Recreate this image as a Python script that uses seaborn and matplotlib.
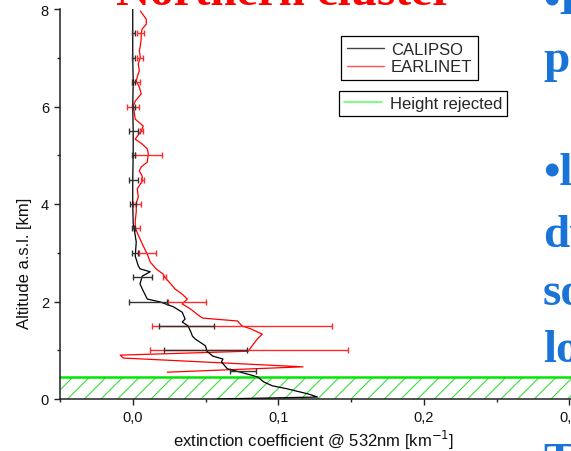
import matplotlib
matplotlib.use("Agg")
import matplotlib.pyplot as plt
import seaborn as sns
from matplotlib.lines import Line2D
from matplotlib.ticker import MultipleLocator, FixedLocator, FixedFormatter

# ---------------- data ----------------
calipso_alt = [8.0, 7.5, 7.0, 6.5, 6.0, 5.5, 5.0, 4.5, 4.0, 3.6, 3.49, 3.22, 2.93,
               2.73, 2.67, 2.61, 2.52, 2.36, 2.26, 2.05, 1.99, 1.89, 1.78, 1.64,
               1.58, 1.50, 1.37, 1.29, 1.23, 1.09, 0.98, 0.88, 0.82, 0.76, 0.62,
               0.55, 0.51, 0.45, 0.35, 0.27, 0.21, 0.10, 0.04, 0.0]
calipso_ext = [0.0, 0.0, 0.0, 0.0003, 0.0, 0.0003, 0.0003, 0.0, 0.0, 0.0003, 0.001,
               0.0024, 0.0017, 0.0038, 0.005, 0.012, 0.0065, 0.005, 0.0065, 0.010,
               0.019, 0.028, 0.034, 0.036, 0.034, 0.038, 0.040, 0.041, 0.043, 0.050,
               0.051, 0.055, 0.062, 0.061, 0.065, 0.074, 0.079, 0.086, 0.090, 0.096,
               0.106, 0.121, 0.127, 0.058]

earlinet_alt = [7.96, 7.79, 7.69, 7.59, 7.51, 7.38, 7.24, 7.14, 7.02, 6.87, 6.73,
                6.61, 6.52, 6.40, 6.26, 6.11, 6.01, 5.89, 5.74, 5.60, 5.50, 5.33,
                5.23, 5.13, 5.03, 4.86, 4.76, 4.68, 4.57, 4.47, 4.31, 4.14, 4.02,
                3.84, 3.65, 3.51, 3.36, 3.14, 2.97, 2.81, 2.67, 2.56, 2.50, 2.40,
                2.26, 2.15, 2.05, 1.95, 1.85, 1.70, 1.66, 1.60, 1.50, 1.44, 1.33,
                1.23, 1.09, 0.98, 0.90, 0.84, 0.66, 0.55]
earlinet_ext = [0.0052, 0.0093, 0.0093, 0.0065, 0.0058, 0.0058, 0.0052, 0.0045,
                0.0052, 0.0038, 0.0045, 0.0031, 0.0024, 0.0045, 0.0058, 0.0017,
                0.0003, 0.0010, 0.0017, 0.0072, 0.0058, 0.0017, 0.0065, 0.0100,
                0.0107, 0.0100, 0.0058, 0.0045, 0.0065, 0.0065, 0.0031, 0.0038,
                0.0024, 0.0024, 0.0017, 0.0017, 0.0038, 0.0072, 0.0100, 0.0120,
                0.0160, 0.0210, 0.0220, 0.0250, 0.0290, 0.0340, 0.0375, 0.0340,
                0.0395, 0.0460, 0.0480, 0.0720, 0.0750, 0.0810, 0.0890, 0.0856,
                0.0820, 0.0794, -0.0086, -0.0065, 0.1170, 0.0237]

calipso_err_alt = [7.5, 7.0, 6.5, 6.0, 5.5, 5.0, 4.5, 4.0, 3.5, 3.0, 2.5, 2.0, 1.5, 1.0, 0.57]
calipso_err_ctr = [0.0003, 0.0003, 0.0003, 0.0003, 0.0003, 0.0003, 0.0003, 0.0003,
                   0.0005, 0.0015, 0.0065, 0.0107, 0.037, 0.050, 0.076]
calipso_err = [0.001, 0.001, 0.001, 0.001, 0.003, 0.001, 0.003, 0.002, 0.001,
               0.002, 0.0065, 0.013, 0.019, 0.0285, 0.009]

earlinet_err_alt = [7.5, 7.0, 6.5, 6.0, 5.5, 5.0, 4.5, 4.0, 3.5, 3.0, 2.5, 2.0, 1.5, 1.0]
earlinet_err_ctr = [0.0055, 0.005, 0.0027, 0.0003, 0.006, 0.011, 0.0065, 0.003,
                    0.003, 0.010, 0.022, 0.037, 0.075, 0.080]
earlinet_err = [0.0025, 0.002, 0.0024, 0.004, 0.001, 0.0093, 0.001, 0.003, 0.002,
                0.006, 0.001, 0.013, 0.062, 0.068]

rejected_top = 0.45

x_ticks = [0.0, 0.1, 0.2, 0.3]
x_labels = ["0,0", "0,1", "0,2", "0,3"]
y_ticks = [0, 2, 4, 6, 8]
y_labels = ["0", "2", "4", "6", "8"]

# ---------------- style ----------------
sns.set_style("ticks")
plt.rcParams["font.family"] = ["Liberation Sans", "DejaVu Sans"]
plt.rcParams["hatch.linewidth"] = 0.8

W, H = 571, 452
fig = plt.figure(figsize=(W / 100, H / 100), dpi=100)
fig.patch.set_facecolor("white")
ax = fig.add_axes([60 / W, 52 / H, 582 / W, 390 / H])
ax.set_facecolor("white")

# rejected height zone
ax.axhspan(0, rejected_top, facecolor="white", edgecolor="#3ddc3d",
           hatch="//", linewidth=0, zorder=1)
ax.axhline(rejected_top, color="#00e600", lw=1.8, zorder=1.6)

# profiles
sns.lineplot(x=calipso_ext, y=calipso_alt, sort=False, estimator=None,
             color="black", lw=0.9, ax=ax, zorder=3)
sns.lineplot(x=earlinet_ext, y=earlinet_alt, sort=False, estimator=None,
             color="#ff0000", lw=0.9, ax=ax, zorder=2.5)

ax.errorbar(calipso_err_ctr, calipso_err_alt, xerr=calipso_err, fmt="none",
            ecolor="#333333", elinewidth=1.0, capsize=2.2, capthick=1.0, zorder=3)
ax.errorbar(earlinet_err_ctr, earlinet_err_alt, xerr=earlinet_err, fmt="none",
            ecolor="#ff2a2a", elinewidth=1.0, capsize=2.2, capthick=1.0, zorder=2.6)

ax.set_xlim(-0.05, 0.35)
ax.set_ylim(0, 8)
ax.xaxis.set_major_locator(FixedLocator(x_ticks))
ax.xaxis.set_major_formatter(FixedFormatter(x_labels))
ax.xaxis.set_minor_locator(MultipleLocator(0.05))
ax.yaxis.set_major_locator(FixedLocator(y_ticks))
ax.yaxis.set_major_formatter(FixedFormatter(y_labels))
ax.yaxis.set_minor_locator(MultipleLocator(1))

for s in ("top", "right"):
    ax.spines[s].set_visible(False)
for s in ("left", "bottom"):
    ax.spines[s].set_color("#222222")
    ax.spines[s].set_linewidth(1.1)

ax.tick_params(which="major", direction="out", length=4, width=1, color="#222222",
               labelsize=10.5, labelcolor="#111111", pad=4)
ax.tick_params(which="minor", direction="out", length=2.5, width=1, color="#222222")

ax.set_xlabel("extinction coefficient @ 532nm [km$^{-1}$]", fontsize=12, color="#111111")
ax.set_ylabel("Altitude a.s.l. [km]", fontsize=12, color="#111111")
ax.xaxis.set_label_coords((314 - 60) / 582, (400 - 440) / 390)
ax.xaxis.label.set_va("center")
ax.yaxis.set_label_coords((25 - 60) / 582, (400 - 263) / 390)
ax.yaxis.label.set_va("center")

# legends
h1 = Line2D([], [], color="#444444", lw=1)
h2 = Line2D([], [], color="#ff5555", lw=1)
leg1 = ax.legend([h1, h2], ["CALIPSO", "EARLINET"], loc="upper left",
                 bbox_to_anchor=(341 / W, (H - 37) / H), bbox_transform=fig.transFigure,
                 borderaxespad=0, fancybox=False, frameon=True, edgecolor="black",
                 framealpha=1, fontsize=12, handlelength=2.2, handletextpad=0.45,
                 labelspacing=0.15, borderpad=0.35)
leg1.get_frame().set_linewidth(0.9)
ax.add_artist(leg1)
h3 = Line2D([], [], color="#66ff66", lw=1.2)
leg2 = ax.legend([h3], ["Height rejected"], loc="upper left",
                 bbox_to_anchor=(339 / W, (H - 92) / H), bbox_transform=fig.transFigure,
                 borderaxespad=0, fancybox=False, frameon=True, edgecolor="black",
                 framealpha=1, fontsize=12, handlelength=2.3, handletextpad=0.45,
                 borderpad=0.3)
leg2.get_frame().set_linewidth(0.9)

# slide text around the chart (partly cut by the screenshot)
fig.text(285 / W, 1 - 5 / H, "Northern cluster", color="#ff0000", fontsize=34,
         fontweight="bold", family="Liberation Serif", ha="center", va="baseline", zorder=10)
blue = "#1a74d8"
for txt, base in [("\u2022Few", 14), ("points", 72), ("\u2022low", 185), ("due", 247),
                  ("some", 305), ("low", 362), ("The", 475)]:
    fig.text(543 / W, 1 - base / H, txt, color=blue, fontsize=34, fontweight="bold",
             family="Liberation Serif", ha="left", va="baseline", zorder=10)

fig.savefig("out.png", dpi=100)
